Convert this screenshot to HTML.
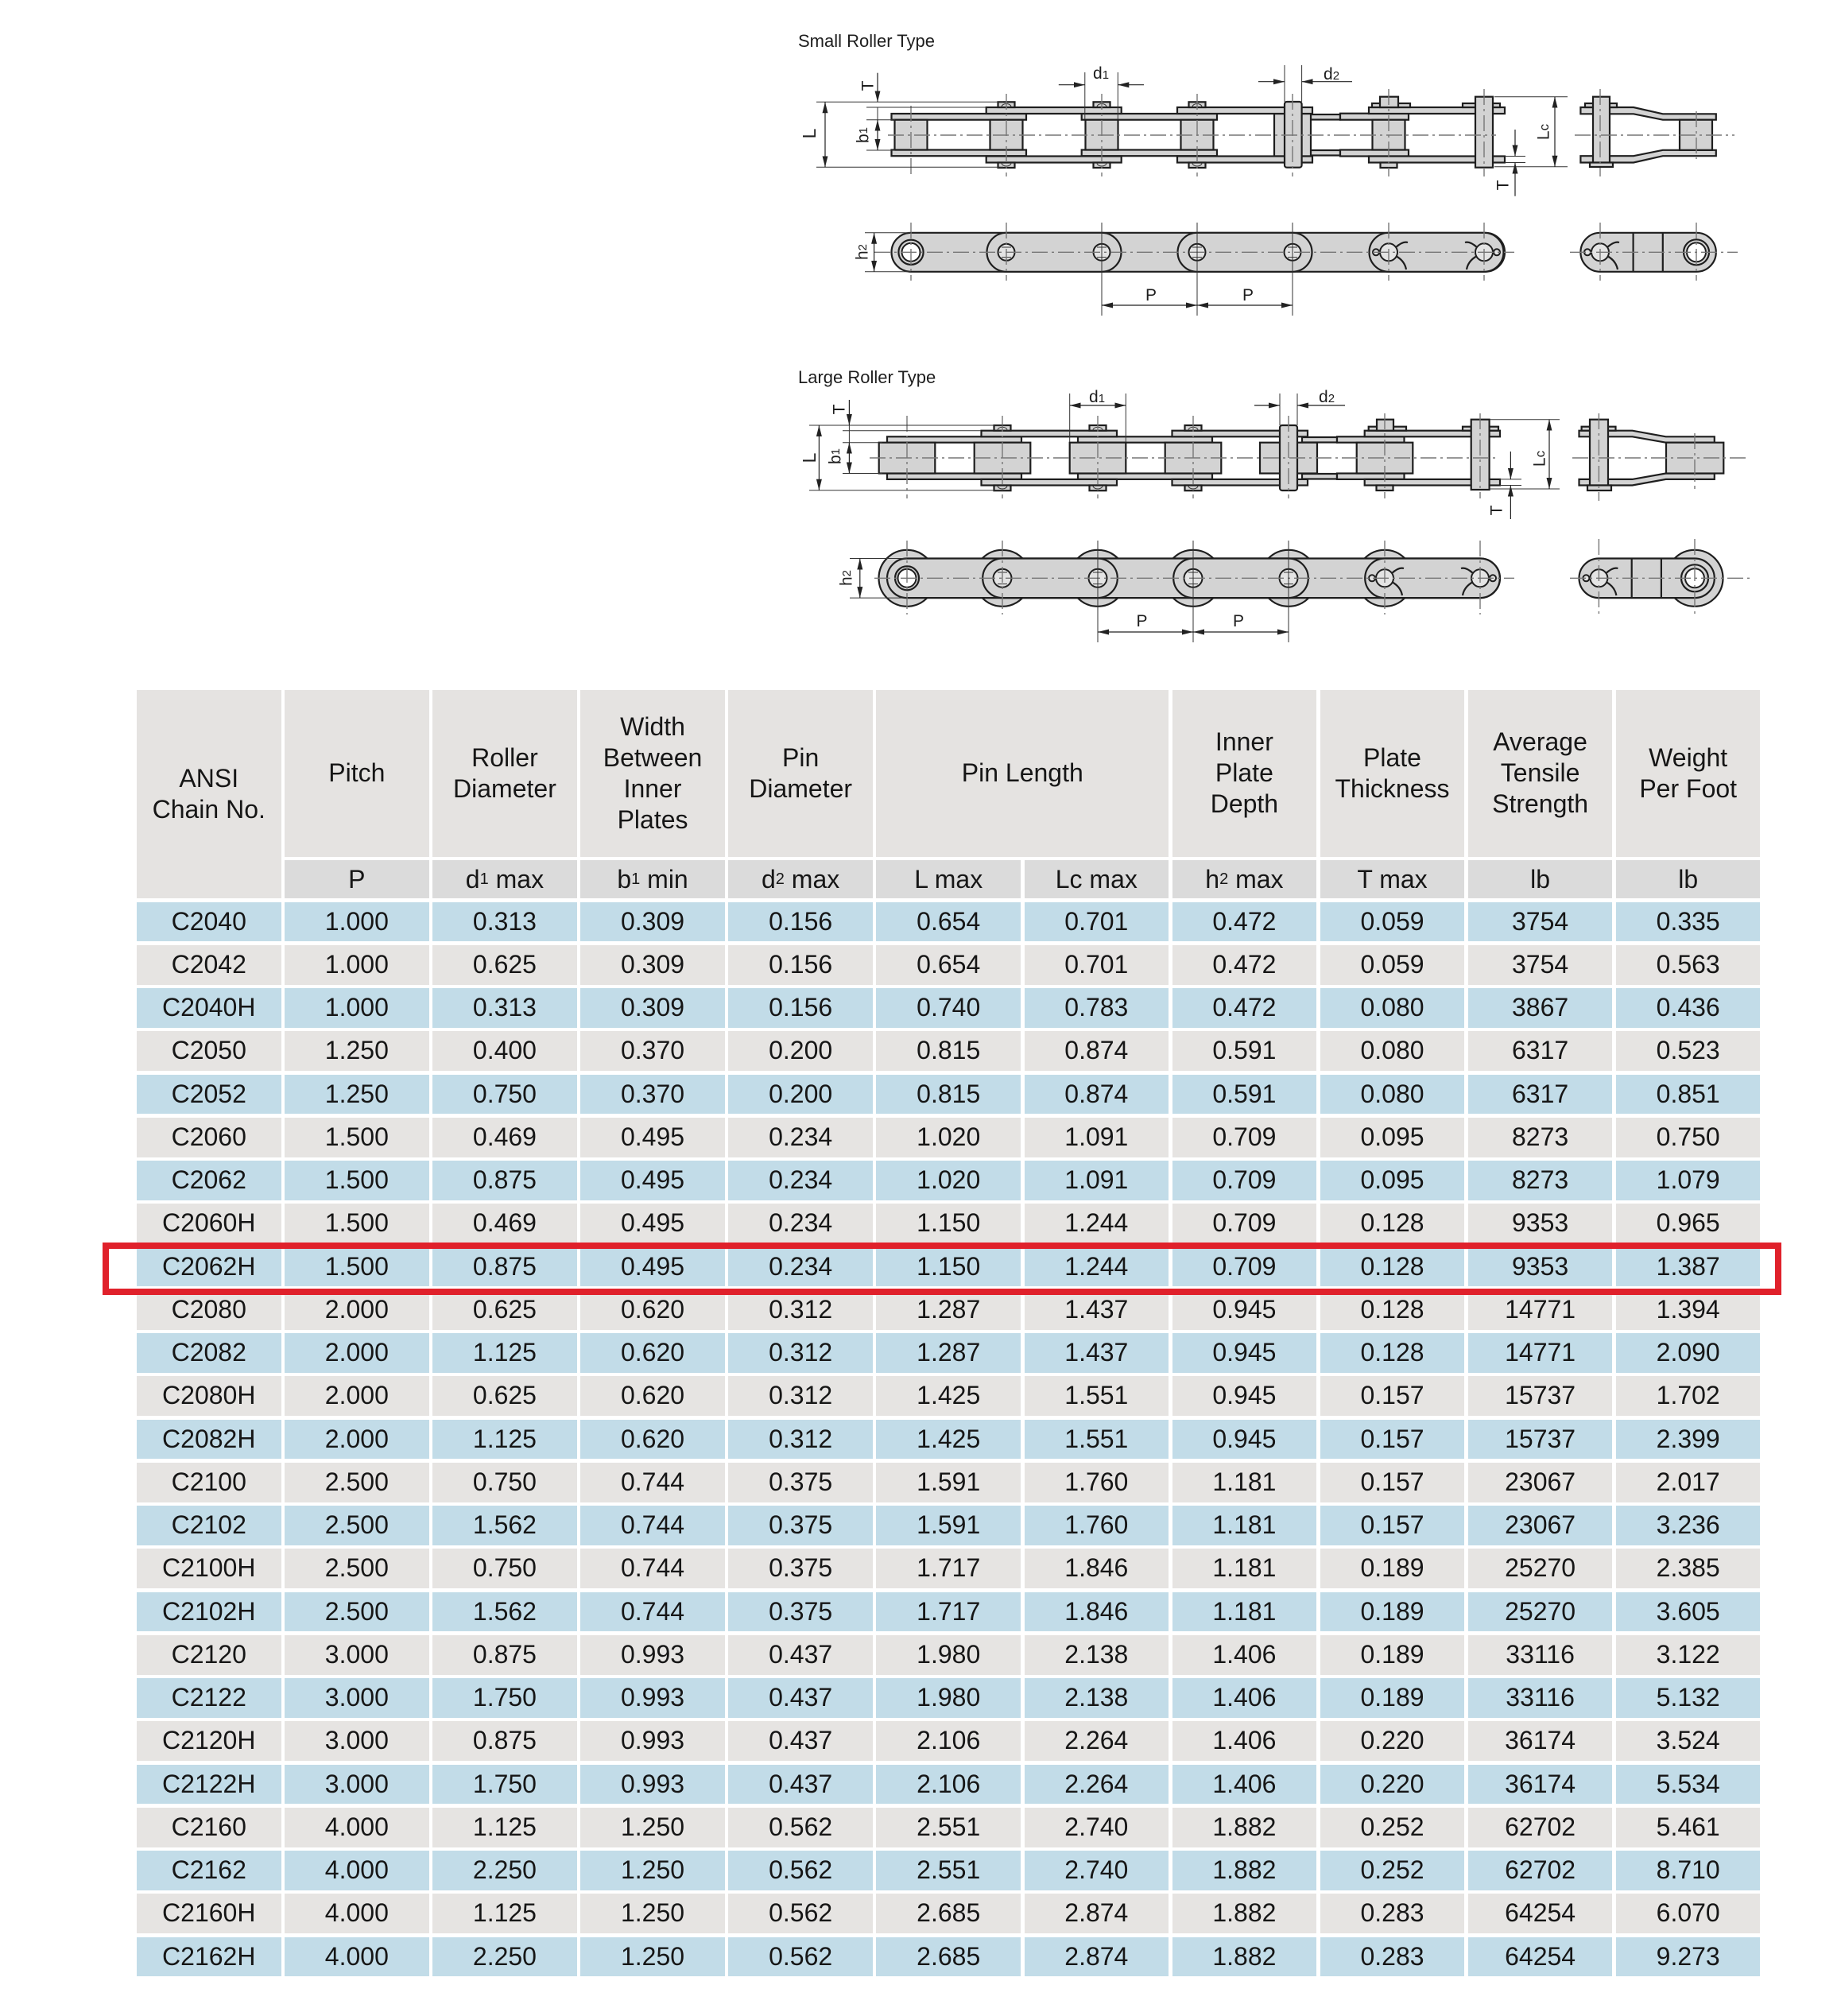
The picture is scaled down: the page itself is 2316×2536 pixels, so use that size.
<!DOCTYPE html>
<html><head><meta charset="utf-8">
<style>
body{margin:0;background:#fff}
#p{position:relative;width:2316px;height:2536px;overflow:hidden;background:#fff;font-family:"Liberation Sans",Arial,sans-serif;color:#161616}
.t{position:absolute;left:172px;top:868px;display:grid;grid-template-columns:repeat(11,181.5px);column-gap:4.6px;row-gap:4.5px;grid-template-rows:209.5px 48px repeat(25,49.75px)}
.t>div{display:flex;align-items:center;justify-content:center;text-align:center;font-size:32px;line-height:49.75px;white-space:nowrap}
.t>div.h{background:#e5e3e1;line-height:39px;white-space:normal}
.t>div.s{background:#dbdbdb;line-height:48px}
.b{background:#c2dce8}
.g{background:#e6e4e2}
.sb{font-size:20px;vertical-align:-3px;line-height:1}
.red{position:absolute;left:129px;top:1563px;width:2112px;height:66px;border:8.5px solid #e0212b;box-sizing:border-box}
svg text{font-family:"Liberation Sans",Arial,sans-serif;fill:#1e1e1e}
.f{fill:#d3d3d3;stroke:#1e1e1e;stroke-width:2.2}
.wh{fill:#fff;stroke:#1e1e1e;stroke-width:2}
.tl{stroke:#333;stroke-width:1;fill:none}
.cl{stroke:#777;stroke-width:1.4;fill:none;stroke-dasharray:20 5 3 5}
.dm{stroke:#222;stroke-width:1.2;fill:none}
.hl{fill:#e4e4e4;stroke:#1e1e1e;stroke-width:2}
.ck{fill:none;stroke:#1e1e1e;stroke-width:2.2}
</style></head><body><div id="p">

<svg width="2316" height="840" viewBox="0 0 2316 840" style="position:absolute;left:0;top:0">
<defs>
<marker id="a" viewBox="0 0 14 8" markerWidth="14" markerHeight="8" refX="14" refY="4" orient="auto-start-reverse" markerUnits="userSpaceOnUse"><path d="M0,0.5L14,4L0,7.5z" fill="#222"/></marker>
</defs>

<!-- ================= SMALL ROLLER TYPE ================= -->
<text x="1004" y="59" font-size="22">Small Roller Type</text>

<g>
<rect class="f" x="1121.5" y="143" width="169.5" height="7.7"/>
<rect class="f" x="1121.5" y="188.5" width="169.5" height="7.7"/>
<rect class="f" x="1360.7" y="143" width="170.3" height="7.7"/>
<rect class="f" x="1360.7" y="188.5" width="170.3" height="7.7"/>
<rect class="f" x="1641" y="144" width="45" height="6.5"/>
<rect class="f" x="1641" y="189" width="45" height="6.5"/>
<rect class="f" x="1686" y="142.7" width="86" height="8"/>
<rect class="f" x="1686" y="188.5" width="86" height="8"/>
<rect class="f" x="1125.5" y="150.7" width="41" height="37.8"/>
<rect class="f" x="1245.5" y="150.7" width="41" height="37.8"/>
<rect class="f" x="1365.5" y="150.7" width="41" height="37.8"/>
<rect class="f" x="1485.5" y="150.7" width="41" height="37.8"/>
<rect class="f" x="1726.5" y="150.7" width="41" height="37.8"/>
<rect class="f" x="1603" y="143" width="46" height="53.5"/>
<rect class="f" x="1240.7" y="135" width="170" height="8"/>
<rect class="f" x="1240.7" y="196.5" width="170" height="8"/>
<rect class="f" x="1481" y="135" width="170" height="8"/>
<rect class="f" x="1481" y="196.5" width="170" height="8"/>
<rect class="f" x="1722" y="135" width="171" height="8"/>
<rect class="f" x="1722" y="196.5" width="171" height="8"/>
<rect class="f" x="1255.5" y="128.3" width="21" height="6.7"/>
<rect class="f" x="1255.5" y="204.5" width="21" height="6.5"/>
<rect class="f" x="1375.5" y="128.3" width="21" height="6.7"/>
<rect class="f" x="1375.5" y="204.5" width="21" height="6.5"/>
<rect class="f" x="1495.5" y="128.3" width="21" height="6.7"/>
<rect class="f" x="1495.5" y="204.5" width="21" height="6.5"/>
<rect class="f" x="1616" y="128" width="21.6" height="82.7" rx="3"/>
<rect class="f" x="1726" y="130" width="48" height="5"/>
<rect class="f" x="1736" y="121.7" width="23" height="13.3"/>
<rect class="f" x="1736.5" y="204.5" width="21" height="6.5"/>
<rect class="f" x="1840" y="130" width="47" height="5"/>
<rect class="f" x="1856" y="121.7" width="22" height="89"/>
<path class="tl" d="M1260,134.5a6,4 0 0 1 12,0M1380,134.5a6,4 0 0 1 12,0M1500,134.5a6,4 0 0 1 12,0M1260,205a6,4 0 0 0 12,0M1380,205a6,4 0 0 0 12,0M1500,205a6,4 0 0 0 12,0"/>
<path class="cl" d="M1117 170H1882"/>
<path class="cl" d="M1146 133V220M1266 118V222M1386 118V222M1506 118V222M1626 118V222M1747 112V222M1867 112V222"/>
</g>

<g>
<polygon class="f" points="1988.4,135 2055,135 2091.8,143.3 2158.8,143.3 2158.8,150.7 2091.8,150.7 2055,143.3 1988.4,143.3"/>
<polygon class="f" points="1988.4,204.5 2055,204.5 2091.8,196.2 2158.8,196.2 2158.8,188.8 2091.8,188.8 2055,196.2 1988.4,196.2"/>
<rect class="f" x="2113" y="150.7" width="41" height="38.1"/>
<rect class="f" x="1994" y="130" width="40" height="5"/>
<rect class="f" x="2004" y="121.7" width="21" height="82.8"/>
<rect class="f" x="2000" y="204.5" width="29" height="5.5"/>
<path class="cl" d="M1981 170H2182M2013 112V222M2134 140V200"/>
</g>

<path class="tl" d="M1027 128.3H1262M1027 210.3H1262M1090 135H1240M1090 150.7H1126M1090 189H1126M1364.8 91V150M1406.3 91V150M1616 82V128M1637.6 82V128M1880 121.7H1972M1880 209.7H1972M1893 196.5H1919M1893 204.5H1919M1104 135V150.7"/>
<line class="dm" x1="1038" y1="128.3" x2="1038" y2="210.3" marker-start="url(#a)" marker-end="url(#a)"/>
<line class="dm" x1="1104" y1="91.7" x2="1104" y2="128.3" marker-end="url(#a)"/>
<line class="dm" x1="1104" y1="150.7" x2="1104" y2="189" marker-start="url(#a)" marker-end="url(#a)"/>
<line class="dm" x1="1331.8" y1="106.7" x2="1364.8" y2="106.7" marker-end="url(#a)"/>
<line class="dm" x1="1439" y1="106.7" x2="1406.3" y2="106.7" marker-end="url(#a)"/>
<line class="dm" x1="1583" y1="102.7" x2="1616" y2="102.7" marker-end="url(#a)"/>
<line class="dm" x1="1701" y1="102.7" x2="1637.6" y2="102.7" marker-end="url(#a)"/>
<line class="dm" x1="1956" y1="121.7" x2="1956" y2="209.7" marker-start="url(#a)" marker-end="url(#a)"/>
<line class="dm" x1="1906" y1="163" x2="1906" y2="196.5" marker-end="url(#a)"/>
<line class="dm" x1="1906" y1="246.7" x2="1906" y2="204.5" marker-end="url(#a)"/>
<text transform="translate(1092,108) rotate(-90)" text-anchor="middle" dominant-baseline="central" font-size="21">T</text>
<text transform="translate(1018,168) rotate(-90)" text-anchor="middle" dominant-baseline="central" font-size="23">L</text>
<text transform="translate(1086,170) rotate(-90)" text-anchor="middle" dominant-baseline="central" font-size="21">b<tspan font-size="15">1</tspan></text>
<text x="1375" y="99" font-size="21">d<tspan font-size="15">1</tspan></text>
<text x="1665" y="100" font-size="21">d<tspan font-size="15">2</tspan></text>
<text transform="translate(1942,166) rotate(-90)" text-anchor="middle" dominant-baseline="central" font-size="21">L<tspan font-size="17">c</tspan></text>
<text transform="translate(1891,233) rotate(-90)" text-anchor="middle" dominant-baseline="central" font-size="21">T</text>

<g>
<rect class="f" x="1121.5" y="292.8" width="771.5" height="49" rx="24.5"/>
<rect class="f" x="1241.5" y="292.8" width="169" height="49" rx="24.5"/>
<rect class="f" x="1481.5" y="292.8" width="169" height="49" rx="24.5"/>
<rect class="f" x="1722.5" y="292.8" width="169" height="49" rx="24.5"/>
<circle class="f" cx="1146" cy="317.3" r="15.6"/>
<circle class="wh" cx="1146" cy="317.3" r="11.5"/>
<circle class="hl" cx="1266" cy="317.3" r="10.5"/><path class="tl" d="M1260 311H1272M1260 323.6H1272"/>
<circle class="hl" cx="1386" cy="317.3" r="10.5"/><path class="tl" d="M1380 311H1392M1380 323.6H1392"/>
<circle class="hl" cx="1506" cy="317.3" r="10.5"/><path class="tl" d="M1500 311H1512M1500 323.6H1512"/>
<circle class="hl" cx="1626" cy="317.3" r="10.5"/><path class="tl" d="M1620 311H1632M1620 323.6H1632"/>
<circle class="hl" cx="1747" cy="317.3" r="11"/><circle class="hl" cx="1731" cy="317.3" r="4"/>
<path class="ck" d="M1756,311Q1765,303 1771,305M1756,322Q1767,328 1769,339"/>
<circle class="hl" cx="1867" cy="317.3" r="11"/><circle class="hl" cx="1883" cy="317.3" r="4"/>
<path class="ck" d="M1858,311Q1849,303 1843,305M1858,322Q1847,328 1845,339"/>
<rect class="f" x="1988.4" y="292.8" width="170.4" height="49" rx="24.5"/>
<path class="ck" d="M2054.6 292.8V341.8M2091.8 292.8V341.8"/>
<circle class="f" cx="2134" cy="317.3" r="16"/>
<circle class="wh" cx="2134" cy="317.3" r="12"/>
<circle class="hl" cx="2013" cy="317.3" r="11"/><circle class="hl" cx="1997" cy="317.3" r="4"/>
<path class="ck" d="M2022,311Q2031,303 2037,305M2022,322Q2033,328 2035,339"/>
<path class="cl" d="M1100 317.3H1905M1975 317.3H2186"/>
<path class="cl" d="M1146 280V353M1266 280V353M1747 280V353M1867 280V353M2013 280V353M2134 280V353"/>
<path class="tl" d="M1386 280V397M1506 280V397M1626 280V397M1088 292.8H1146M1088 341.8H1146"/>
</g>
<line class="dm" x1="1099.6" y1="292.8" x2="1099.6" y2="341.8" marker-start="url(#a)" marker-end="url(#a)"/>
<line class="dm" x1="1386" y1="384" x2="1506" y2="384" marker-start="url(#a)" marker-end="url(#a)"/>
<line class="dm" x1="1506" y1="384" x2="1626" y2="384" marker-start="url(#a)" marker-end="url(#a)"/>
<text transform="translate(1085,317) rotate(-90)" text-anchor="middle" dominant-baseline="central" font-size="21">h<tspan font-size="15">2</tspan></text>
<text x="1448" y="378" text-anchor="middle" font-size="21">P</text>
<text x="1570" y="378" text-anchor="middle" font-size="21">P</text>

<!-- ================= LARGE ROLLER TYPE ================= -->
<text x="1004" y="482" font-size="22">Large Roller Type</text>

<g>
<rect class="f" x="1116" y="549.3" width="169" height="7.4"/>
<rect class="f" x="1116" y="595.5" width="169" height="7.4"/>
<rect class="f" x="1356" y="549.3" width="169" height="7.4"/>
<rect class="f" x="1356" y="595.5" width="169" height="7.4"/>
<rect class="f" x="1638" y="550" width="44" height="6.5"/>
<rect class="f" x="1638" y="596" width="44" height="6.5"/>
<rect class="f" x="1682" y="549.3" width="84.5" height="7.4"/>
<rect class="f" x="1682" y="595.5" width="84.5" height="7.4"/>
<rect class="f" x="1105.7" y="556.7" width="70.6" height="38.8"/>
<rect class="f" x="1225.7" y="556.7" width="70.6" height="38.8"/>
<rect class="f" x="1345.7" y="556.7" width="70.6" height="38.8"/>
<rect class="f" x="1465.7" y="556.7" width="70.6" height="38.8"/>
<rect class="f" x="1706.7" y="556.7" width="70.6" height="38.8"/>
<rect class="f" x="1585" y="556.7" width="72" height="38.8"/>
<rect class="f" x="1234.5" y="541.7" width="170.5" height="7.6"/>
<rect class="f" x="1234.5" y="602.9" width="170.5" height="7.6"/>
<rect class="f" x="1474.5" y="541.7" width="170.5" height="7.6"/>
<rect class="f" x="1474.5" y="602.9" width="170.5" height="7.6"/>
<rect class="f" x="1716.7" y="541.7" width="170.3" height="7.6"/>
<rect class="f" x="1716.7" y="602.9" width="170.3" height="7.6"/>
<rect class="f" x="1250.5" y="535" width="21" height="6.7"/>
<rect class="f" x="1250.5" y="610.5" width="21" height="6.7"/>
<rect class="f" x="1370.5" y="535" width="21" height="6.7"/>
<rect class="f" x="1370.5" y="610.5" width="21" height="6.7"/>
<rect class="f" x="1490.5" y="535" width="21" height="6.7"/>
<rect class="f" x="1490.5" y="610.5" width="21" height="6.7"/>
<rect class="f" x="1610" y="535" width="22" height="82" rx="3"/>
<rect class="f" x="1721.7" y="536.7" width="47.3" height="5"/>
<rect class="f" x="1732" y="527.7" width="21" height="14"/>
<rect class="f" x="1731.5" y="610.5" width="21" height="6.5"/>
<rect class="f" x="1840" y="536.7" width="45" height="5"/>
<rect class="f" x="1850.7" y="527.7" width="22.9" height="88.3"/>
<path class="tl" d="M1255,541.2a6,4 0 0 1 12,0M1375,541.2a6,4 0 0 1 12,0M1495,541.2a6,4 0 0 1 12,0M1255,611a6,4 0 0 0 12,0M1375,611a6,4 0 0 0 12,0M1495,611a6,4 0 0 0 12,0"/>
<path class="cl" d="M1094 576H1881"/>
<path class="cl" d="M1141 523V627M1261 523V627M1381 523V627M1501 523V627M1621 523V627M1742 520V627M1862 520V627"/>
</g>

<g>
<polygon class="f" points="1986.5,541.7 2053.5,541.7 2095.6,549.3 2156.8,549.3 2156.8,556.7 2095.6,556.7 2053.5,549.3 1986.5,549.3"/>
<polygon class="f" points="1986.5,610.5 2053.5,610.5 2095.6,602.9 2156.8,602.9 2156.8,595.5 2095.6,595.5 2053.5,602.9 1986.5,602.9"/>
<rect class="f" x="2096" y="556.7" width="72.3" height="38.8"/>
<rect class="f" x="1989.6" y="536.7" width="42.9" height="5"/>
<rect class="f" x="2000" y="527.7" width="23" height="82.8"/>
<rect class="f" x="1997" y="610.5" width="30" height="6.5"/>
<path class="cl" d="M1978 576H2200M2011.4 520V630M2132 545V615"/>
</g>

<path class="tl" d="M1018 535H1265M1018 616.7H1265M1060 541.7H1234M1060 556.7H1110M1060 595.5H1110M1345.7 495V556M1416.3 495V556M1610 495V535M1632 495V535M1874 527.7H1962M1874 615H1962M1887 602.9H1914M1887 610.5H1914M1068.4 535V556.7"/>
<line class="dm" x1="1030.4" y1="535" x2="1030.4" y2="616.7" marker-start="url(#a)" marker-end="url(#a)"/>
<line class="dm" x1="1068.4" y1="503" x2="1068.4" y2="535" marker-end="url(#a)"/>
<line class="dm" x1="1068.4" y1="556.7" x2="1068.4" y2="595.5" marker-start="url(#a)" marker-end="url(#a)"/>
<line class="dm" x1="1345.7" y1="510" x2="1416.3" y2="510" marker-start="url(#a)" marker-end="url(#a)"/>
<line class="dm" x1="1578" y1="510" x2="1610" y2="510" marker-end="url(#a)"/>
<line class="dm" x1="1692" y1="510" x2="1632" y2="510" marker-end="url(#a)"/>
<line class="dm" x1="1949" y1="527.7" x2="1949" y2="615" marker-start="url(#a)" marker-end="url(#a)"/>
<line class="dm" x1="1900.4" y1="568" x2="1900.4" y2="602.9" marker-end="url(#a)"/>
<line class="dm" x1="1900.4" y1="653" x2="1900.4" y2="610.5" marker-end="url(#a)"/>
<text transform="translate(1056,515) rotate(-90)" text-anchor="middle" dominant-baseline="central" font-size="21">T</text>
<text transform="translate(1018,576) rotate(-90)" text-anchor="middle" dominant-baseline="central" font-size="23">L</text>
<text transform="translate(1051,574) rotate(-90)" text-anchor="middle" dominant-baseline="central" font-size="21">b<tspan font-size="15">1</tspan></text>
<text x="1370" y="506" font-size="21">d<tspan font-size="15">1</tspan></text>
<text x="1659" y="506" font-size="21">d<tspan font-size="15">2</tspan></text>
<text transform="translate(1937,577) rotate(-90)" text-anchor="middle" dominant-baseline="central" font-size="21">L<tspan font-size="17">c</tspan></text>
<text transform="translate(1883,642) rotate(-90)" text-anchor="middle" dominant-baseline="central" font-size="21">T</text>

<g>
<circle class="f" cx="1141" cy="727.3" r="35.5"/>
<circle class="f" cx="1261" cy="727.3" r="35.5"/>
<circle class="f" cx="1381" cy="727.3" r="35.5"/>
<circle class="f" cx="1501" cy="727.3" r="35.5"/>
<circle class="f" cx="1621" cy="727.3" r="35.5"/>
<circle class="f" cx="1742" cy="727.3" r="35.5"/>
<rect class="f" x="1116" y="702.5" width="771" height="49.6" rx="24.8"/>
<rect class="f" x="1236.2" y="702.5" width="169.6" height="49.6" rx="24.8"/>
<rect class="f" x="1476.2" y="702.5" width="169.6" height="49.6" rx="24.8"/>
<rect class="f" x="1717.2" y="702.5" width="169.6" height="49.6" rx="24.8"/>
<circle class="f" cx="1141" cy="727.3" r="15"/>
<circle class="wh" cx="1141" cy="727.3" r="11.5"/>
<circle class="hl" cx="1261" cy="727.3" r="11.5"/><path class="tl" d="M1255 720H1267M1255 734.6H1267"/>
<circle class="hl" cx="1381" cy="727.3" r="11.5"/><path class="tl" d="M1375 720H1387M1375 734.6H1387"/>
<circle class="hl" cx="1501" cy="727.3" r="11.5"/><path class="tl" d="M1495 720H1507M1495 734.6H1507"/>
<circle class="hl" cx="1621" cy="727.3" r="11.5"/><path class="tl" d="M1615 720H1627M1615 734.6H1627"/>
<circle class="hl" cx="1742" cy="727.3" r="11"/><circle class="hl" cx="1726" cy="727.3" r="4"/>
<path class="ck" d="M1751,721Q1760,713 1766,715M1751,732Q1762,738 1764,749"/>
<circle class="hl" cx="1862" cy="727.3" r="11"/><circle class="hl" cx="1878" cy="727.3" r="4"/>
<path class="ck" d="M1853,721Q1844,713 1838,715M1853,732Q1842,738 1840,749"/>
<circle class="f" cx="2132" cy="727.3" r="35.5"/>
<rect class="f" x="1986.5" y="702.5" width="170.3" height="49.6" rx="24.8"/>
<path class="ck" d="M2052.7 702.5V752.1M2089.9 702.5V752.1"/>
<circle class="f" cx="2132" cy="727.3" r="17"/>
<circle class="wh" cx="2132" cy="727.3" r="12"/>
<circle class="hl" cx="2011.4" cy="727.3" r="11"/><circle class="hl" cx="1995.4" cy="727.3" r="4"/>
<path class="ck" d="M2020.4,721Q2029.4,713 2035.4,715M2020.4,732Q2031.4,738 2033.4,749"/>
<path class="cl" d="M1100 727.3H1905M1975 727.3H2205"/>
<path class="cl" d="M1141 680V773M1261 680V773M1742 680V773M1862 680V773M2011.4 678V777M2132 678V777"/>
<path class="tl" d="M1381 680V808M1501 680V808M1621 680V808M1069 702.5H1141M1069 752.1H1141"/>
</g>
<line class="dm" x1="1081.8" y1="702.5" x2="1081.8" y2="752.1" marker-start="url(#a)" marker-end="url(#a)"/>
<line class="dm" x1="1381" y1="795" x2="1501" y2="795" marker-start="url(#a)" marker-end="url(#a)"/>
<line class="dm" x1="1501" y1="795" x2="1621" y2="795" marker-start="url(#a)" marker-end="url(#a)"/>
<text transform="translate(1065,727) rotate(-90)" text-anchor="middle" dominant-baseline="central" font-size="21">h<tspan font-size="15">2</tspan></text>
<text x="1436.5" y="788" text-anchor="middle" font-size="21">P</text>
<text x="1558" y="788" text-anchor="middle" font-size="21">P</text>
</svg>

<div class="t">
<div class="h" style="grid-row:span 2">ANSI<br>Chain No.</div>
<div class="h">Pitch</div>
<div class="h">Roller<br>Diameter</div>
<div class="h">Width<br>Between<br>Inner<br>Plates</div>
<div class="h">Pin<br>Diameter</div>
<div class="h" style="grid-column:span 2">Pin Length</div>
<div class="h">Inner<br>Plate<br>Depth</div>
<div class="h">Plate<br>Thickness</div>
<div class="h">Average<br>Tensile<br>Strength</div>
<div class="h">Weight<br>Per Foot</div>
<div class="s">P</div>
<div class="s">d<span class="sb">1</span>&nbsp;max</div>
<div class="s">b<span class="sb">1</span>&nbsp;min</div>
<div class="s">d<span class="sb">2</span>&nbsp;max</div>
<div class="s">L max</div>
<div class="s">Lc max</div>
<div class="s">h<span class="sb">2</span>&nbsp;max</div>
<div class="s">T max</div>
<div class="s">lb</div>
<div class="s">lb</div>

<div class="b">C2040</div><div class="b">1.000</div><div class="b">0.313</div><div class="b">0.309</div><div class="b">0.156</div><div class="b">0.654</div><div class="b">0.701</div><div class="b">0.472</div><div class="b">0.059</div><div class="b">3754</div><div class="b">0.335</div>
<div class="g">C2042</div><div class="g">1.000</div><div class="g">0.625</div><div class="g">0.309</div><div class="g">0.156</div><div class="g">0.654</div><div class="g">0.701</div><div class="g">0.472</div><div class="g">0.059</div><div class="g">3754</div><div class="g">0.563</div>
<div class="b">C2040H</div><div class="b">1.000</div><div class="b">0.313</div><div class="b">0.309</div><div class="b">0.156</div><div class="b">0.740</div><div class="b">0.783</div><div class="b">0.472</div><div class="b">0.080</div><div class="b">3867</div><div class="b">0.436</div>
<div class="g">C2050</div><div class="g">1.250</div><div class="g">0.400</div><div class="g">0.370</div><div class="g">0.200</div><div class="g">0.815</div><div class="g">0.874</div><div class="g">0.591</div><div class="g">0.080</div><div class="g">6317</div><div class="g">0.523</div>
<div class="b">C2052</div><div class="b">1.250</div><div class="b">0.750</div><div class="b">0.370</div><div class="b">0.200</div><div class="b">0.815</div><div class="b">0.874</div><div class="b">0.591</div><div class="b">0.080</div><div class="b">6317</div><div class="b">0.851</div>
<div class="g">C2060</div><div class="g">1.500</div><div class="g">0.469</div><div class="g">0.495</div><div class="g">0.234</div><div class="g">1.020</div><div class="g">1.091</div><div class="g">0.709</div><div class="g">0.095</div><div class="g">8273</div><div class="g">0.750</div>
<div class="b">C2062</div><div class="b">1.500</div><div class="b">0.875</div><div class="b">0.495</div><div class="b">0.234</div><div class="b">1.020</div><div class="b">1.091</div><div class="b">0.709</div><div class="b">0.095</div><div class="b">8273</div><div class="b">1.079</div>
<div class="g">C2060H</div><div class="g">1.500</div><div class="g">0.469</div><div class="g">0.495</div><div class="g">0.234</div><div class="g">1.150</div><div class="g">1.244</div><div class="g">0.709</div><div class="g">0.128</div><div class="g">9353</div><div class="g">0.965</div>
<div class="b">C2062H</div><div class="b">1.500</div><div class="b">0.875</div><div class="b">0.495</div><div class="b">0.234</div><div class="b">1.150</div><div class="b">1.244</div><div class="b">0.709</div><div class="b">0.128</div><div class="b">9353</div><div class="b">1.387</div>
<div class="g">C2080</div><div class="g">2.000</div><div class="g">0.625</div><div class="g">0.620</div><div class="g">0.312</div><div class="g">1.287</div><div class="g">1.437</div><div class="g">0.945</div><div class="g">0.128</div><div class="g">14771</div><div class="g">1.394</div>
<div class="b">C2082</div><div class="b">2.000</div><div class="b">1.125</div><div class="b">0.620</div><div class="b">0.312</div><div class="b">1.287</div><div class="b">1.437</div><div class="b">0.945</div><div class="b">0.128</div><div class="b">14771</div><div class="b">2.090</div>
<div class="g">C2080H</div><div class="g">2.000</div><div class="g">0.625</div><div class="g">0.620</div><div class="g">0.312</div><div class="g">1.425</div><div class="g">1.551</div><div class="g">0.945</div><div class="g">0.157</div><div class="g">15737</div><div class="g">1.702</div>
<div class="b">C2082H</div><div class="b">2.000</div><div class="b">1.125</div><div class="b">0.620</div><div class="b">0.312</div><div class="b">1.425</div><div class="b">1.551</div><div class="b">0.945</div><div class="b">0.157</div><div class="b">15737</div><div class="b">2.399</div>
<div class="g">C2100</div><div class="g">2.500</div><div class="g">0.750</div><div class="g">0.744</div><div class="g">0.375</div><div class="g">1.591</div><div class="g">1.760</div><div class="g">1.181</div><div class="g">0.157</div><div class="g">23067</div><div class="g">2.017</div>
<div class="b">C2102</div><div class="b">2.500</div><div class="b">1.562</div><div class="b">0.744</div><div class="b">0.375</div><div class="b">1.591</div><div class="b">1.760</div><div class="b">1.181</div><div class="b">0.157</div><div class="b">23067</div><div class="b">3.236</div>
<div class="g">C2100H</div><div class="g">2.500</div><div class="g">0.750</div><div class="g">0.744</div><div class="g">0.375</div><div class="g">1.717</div><div class="g">1.846</div><div class="g">1.181</div><div class="g">0.189</div><div class="g">25270</div><div class="g">2.385</div>
<div class="b">C2102H</div><div class="b">2.500</div><div class="b">1.562</div><div class="b">0.744</div><div class="b">0.375</div><div class="b">1.717</div><div class="b">1.846</div><div class="b">1.181</div><div class="b">0.189</div><div class="b">25270</div><div class="b">3.605</div>
<div class="g">C2120</div><div class="g">3.000</div><div class="g">0.875</div><div class="g">0.993</div><div class="g">0.437</div><div class="g">1.980</div><div class="g">2.138</div><div class="g">1.406</div><div class="g">0.189</div><div class="g">33116</div><div class="g">3.122</div>
<div class="b">C2122</div><div class="b">3.000</div><div class="b">1.750</div><div class="b">0.993</div><div class="b">0.437</div><div class="b">1.980</div><div class="b">2.138</div><div class="b">1.406</div><div class="b">0.189</div><div class="b">33116</div><div class="b">5.132</div>
<div class="g">C2120H</div><div class="g">3.000</div><div class="g">0.875</div><div class="g">0.993</div><div class="g">0.437</div><div class="g">2.106</div><div class="g">2.264</div><div class="g">1.406</div><div class="g">0.220</div><div class="g">36174</div><div class="g">3.524</div>
<div class="b">C2122H</div><div class="b">3.000</div><div class="b">1.750</div><div class="b">0.993</div><div class="b">0.437</div><div class="b">2.106</div><div class="b">2.264</div><div class="b">1.406</div><div class="b">0.220</div><div class="b">36174</div><div class="b">5.534</div>
<div class="g">C2160</div><div class="g">4.000</div><div class="g">1.125</div><div class="g">1.250</div><div class="g">0.562</div><div class="g">2.551</div><div class="g">2.740</div><div class="g">1.882</div><div class="g">0.252</div><div class="g">62702</div><div class="g">5.461</div>
<div class="b">C2162</div><div class="b">4.000</div><div class="b">2.250</div><div class="b">1.250</div><div class="b">0.562</div><div class="b">2.551</div><div class="b">2.740</div><div class="b">1.882</div><div class="b">0.252</div><div class="b">62702</div><div class="b">8.710</div>
<div class="g">C2160H</div><div class="g">4.000</div><div class="g">1.125</div><div class="g">1.250</div><div class="g">0.562</div><div class="g">2.685</div><div class="g">2.874</div><div class="g">1.882</div><div class="g">0.283</div><div class="g">64254</div><div class="g">6.070</div>
<div class="b">C2162H</div><div class="b">4.000</div><div class="b">2.250</div><div class="b">1.250</div><div class="b">0.562</div><div class="b">2.685</div><div class="b">2.874</div><div class="b">1.882</div><div class="b">0.283</div><div class="b">64254</div><div class="b">9.273</div>
</div>

<div class="red"></div>
</div></body></html>
